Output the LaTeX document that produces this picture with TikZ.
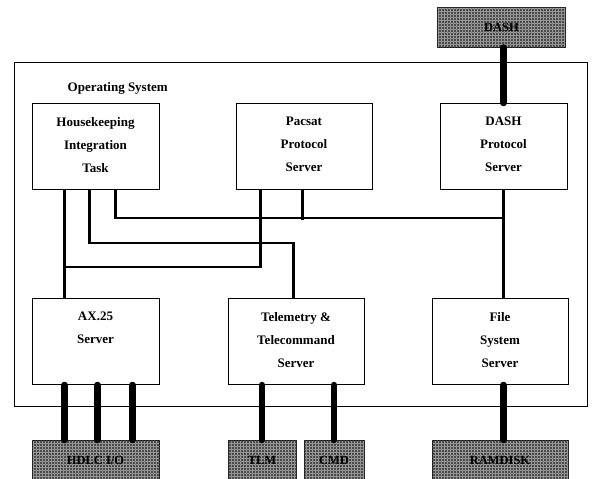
\documentclass[tikz,border=0pt]{standalone}
\usepackage{fontspec}
\setmainfont{Liberation Serif}
\usetikzlibrary{positioning, patterns}

\begin{document}
\begin{tikzpicture}[
    x=1pt, y=-1pt,
    srvbox/.style={
        draw,
        line width=1pt,
        minimum width=#1,
        minimum height=86pt,
        inner sep=0pt
    },
    srvbox/.default=127pt,
    srvtext/.style={
        font=\bfseries\fontsize{13}{23}\selectfont,
        align=center,
        anchor=north,
        inner sep=0pt
    },
    devbox/.style={
        draw=black!85,
        line width=1pt,
        preaction={fill=black!70},
        pattern=grid,
        pattern color=black!42,
        minimum height=40pt,
        minimum width=#1,
        inner sep=0pt,
        font=\bfseries\fontsize{12.5}{14}\selectfont
    },
    devbox/.default=127pt,
    ostitle/.style={font=\bfseries\fontsize{13}{14}\selectfont, anchor=west, inner sep=0pt},
    link/.style={line width=2.5pt},
    cable/.style={line width=6.5pt, line cap=round}
]
\useasboundingbox (0,0) rectangle (592,479);

% === Operating System ===
\node[draw, line width=1pt, minimum width=573pt, minimum height=344pt, inner sep=0pt] (os) at (300.5,234) {};
\node[ostitle] (ostitle) at ([xshift=54pt,yshift=-27pt]os.north west) {Operating System};

% === Upper servers ===
\node[srvbox] (hk) at (95.5,146.5) {};
\node[srvtext] (hktext) at ([yshift=-14pt]hk.north) {Housekeeping\\Integration\\Task};

\node[srvbox=136pt, right=76pt of hk] (pac) {};
\node[srvtext] (pactext) at ([yshift=-14pt]pac.north) {Pacsat\\Protocol\\Server};

\node[srvbox, right=67pt of pac] (dp) {};
\node[srvtext] (dptext) at ([yshift=-14pt]dp.north) {DASH\\Protocol\\Server};

% === Lower servers ===
\node[srvbox, below=108pt of hk] (ax) {};
\node[srvtext] (axtext) at ([yshift=-14pt]ax.north) {AX.25\\Server};

\node[srvbox=136pt, right=68pt of ax] (tt) {};
\node[srvtext] (tttext) at ([yshift=-14pt]tt.north) {Telemetry \&\\Telecommand\\Server};

\node[srvbox=136pt, right=67pt of tt] (fs) {};
\node[srvtext] (fstext) at ([yshift=-14pt]fs.north) {File\\System\\Server};

% === Devices ===
\node[devbox=128pt] (dash) at (501.5,27) {DASH};
\node[devbox, below=55pt of ax] (hdlc) {HDLC I/O};
\node[devbox=68pt, anchor=north west] (tlm) at ([yshift=-55pt]tt.south west) {TLM};
\node[devbox=60pt, anchor=north east] (cmd) at ([yshift=-55pt]tt.south east) {CMD};
\node[devbox=136pt, below=55pt of fs] (ram) {RAMDISK};

% === Internal links ===
\coordinate (axjoin) at (65,267);
\coordinate (ttbend) at (200,243);
\coordinate (bus) at (dp.south |- 0,218);

\draw[link] ([xshift=33pt]hk.south west) -- ([xshift=33pt]ax.north west);
\draw[link] ([xshift=25pt]pac.south west) |- (axjoin);
\draw[link] ([xshift=58pt]hk.south west) |- (ttbend) -| ([xshift=66pt]tt.north west);
\draw[link] ([xshift=84pt]hk.south west) |- (bus);
\draw[link] ([xshift=67pt]pac.south west) -- ++(0,30);
\draw[link] (dp.south) -- (dp.south |- fs.north);

% === Device cables ===
\draw[cable] (dash.south -| dp.north) -- (dp.north);
\foreach \dx in {33,66,101}
    \draw[cable] ([xshift=\dx pt]ax.south west) -- ([xshift=\dx pt]hdlc.north west);
\draw[cable] (tt.south -| tlm.north) -- (tlm.north);
\draw[cable] (tt.south -| cmd.north) -- (cmd.north);
\draw[cable] (fs.south -| dp.south) -- (ram.north -| dp.south);

\end{tikzpicture}
\end{document}
